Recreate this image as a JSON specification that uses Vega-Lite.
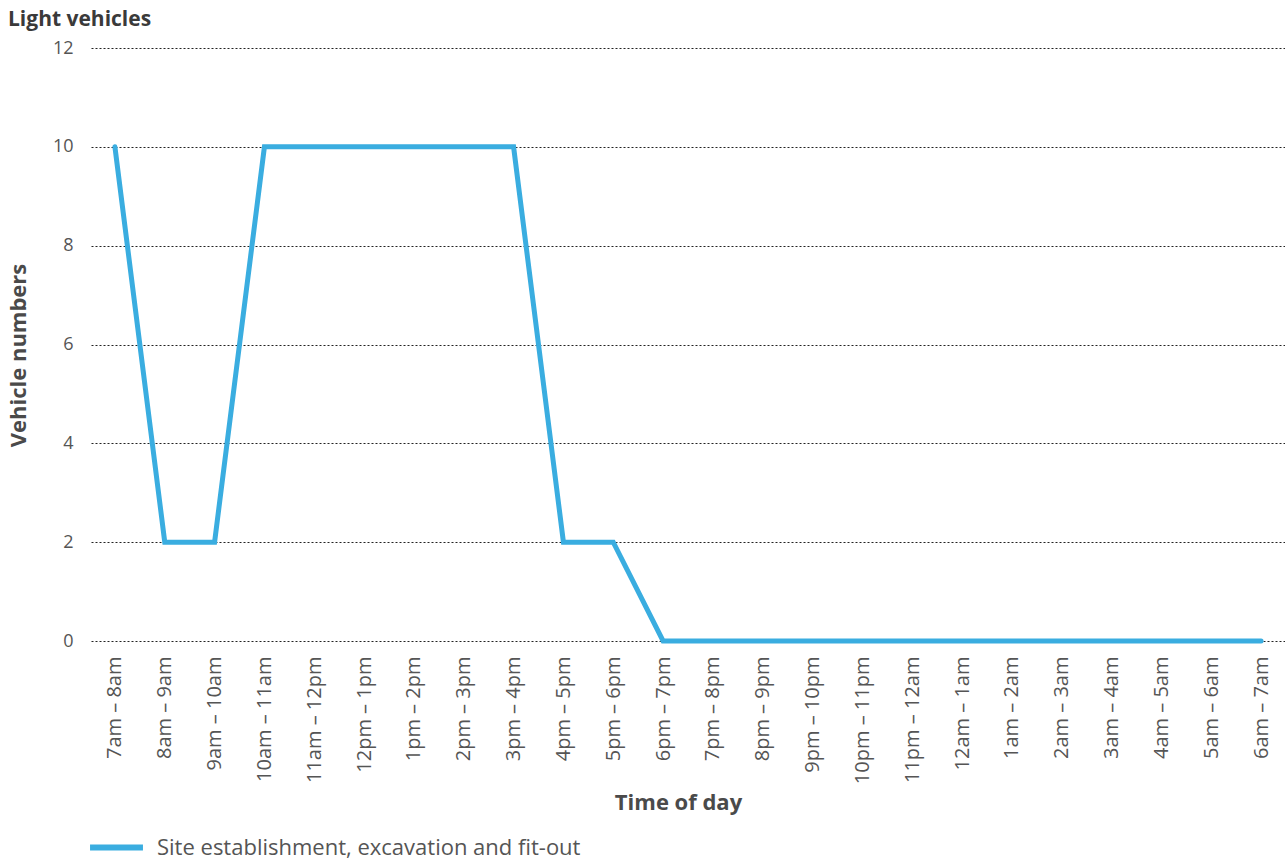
{
  "$schema": "https://vega.github.io/schema/vega-lite/v6.json",
  "autosize": {"type": "none"},
  "width": 1194,
  "height": 593,
  "padding": {"left": 91, "top": 48, "right": 0, "bottom": 218},
  "background": "white",
  "title": {
    "text": "Light vehicles",
    "anchor": "start",
    "frame": "group",
    "dx": -83,
    "offset": 9,
    "font": "Open Sans",
    "fontSize": 21,
    "fontWeight": "bold",
    "color": "#3a3a3a"
  },
  "config": {
    "view": {"stroke": null},
    "font": "Open Sans"
  },
  "data": {
    "values": [
      {"time": "7am – 8am", "vehicles": 10},
      {"time": "8am – 9am", "vehicles": 2},
      {"time": "9am – 10am", "vehicles": 2},
      {"time": "10am – 11am", "vehicles": 10},
      {"time": "11am – 12pm", "vehicles": 10},
      {"time": "12pm – 1pm", "vehicles": 10},
      {"time": "1pm – 2pm", "vehicles": 10},
      {"time": "2pm – 3pm", "vehicles": 10},
      {"time": "3pm – 4pm", "vehicles": 10},
      {"time": "4pm – 5pm", "vehicles": 2},
      {"time": "5pm – 6pm", "vehicles": 2},
      {"time": "6pm – 7pm", "vehicles": 0},
      {"time": "7pm – 8pm", "vehicles": 0},
      {"time": "8pm – 9pm", "vehicles": 0},
      {"time": "9pm – 10pm", "vehicles": 0},
      {"time": "10pm – 11pm", "vehicles": 0},
      {"time": "11pm – 12am", "vehicles": 0},
      {"time": "12am – 1am", "vehicles": 0},
      {"time": "1am – 2am", "vehicles": 0},
      {"time": "2am – 3am", "vehicles": 0},
      {"time": "3am – 4am", "vehicles": 0},
      {"time": "4am – 5am", "vehicles": 0},
      {"time": "5am – 6am", "vehicles": 0},
      {"time": "6am – 7am", "vehicles": 0}
    ]
  },
  "mark": {"type": "line", "strokeWidth": 5, "strokeCap": "round", "strokeJoin": "miter"},
  "encoding": {
    "x": {
      "field": "time",
      "type": "ordinal",
      "sort": null,
      "scale": {"type": "point", "padding": 0.48},
      "axis": {
        "title": "Time of day",
        "titleFont": "Open Sans",
        "titleFontSize": 22,
        "titleFontWeight": "bold",
        "titleColor": "#4a4a4a",
        "titleX": 587,
        "titleY": 161,
        "titleAlign": "center",
        "titleBaseline": "middle",
        "labelAngle": -90,
        "labelAlign": "right",
        "labelBaseline": "middle",
        "labelFontSize": 20,
        "labelColor": "#555555",
        "labelPadding": 15,
        "labelFont": "Open Sans",
        "labelOverlap": false,
        "ticks": false,
        "domain": false,
        "grid": false
      }
    },
    "y": {
      "field": "vehicles",
      "type": "quantitative",
      "scale": {"domain": [0, 12], "nice": false},
      "axis": {
        "title": "Vehicle numbers",
        "titleFont": "Open Sans",
        "titleFontSize": 22,
        "titleFontWeight": "bold",
        "titleColor": "#4a4a4a",
        "titleAngle": -90,
        "titleX": -73,
        "titleY": 307,
        "titleAlign": "center",
        "titleBaseline": "middle",
        "values": [0, 2, 4, 6, 8, 10, 12],
        "labelFontSize": 18,
        "labelColor": "#555555",
        "labelPadding": 18,
        "labelFont": "Open Sans",
        "ticks": false,
        "domain": false,
        "grid": true,
        "gridColor": "#222222",
        "gridDash": [2, 2],
        "gridWidth": 1
      }
    },
    "color": {
      "datum": "Site establishment, excavation and fit-out",
      "scale": {"range": ["#3aade0"]},
      "legend": {
        "title": null,
        "orient": "none",
        "legendX": -4,
        "legendY": 770,
        "padding": 0,
        "symbolType": "stroke",
        "symbolSize": 2800,
        "symbolStrokeWidth": 6,
        "labelFontSize": 22,
        "labelColor": "#555555",
        "labelFont": "Open Sans",
        "labelOffset": 11,
        "labelLimit": 800
      }
    }
  }
}
